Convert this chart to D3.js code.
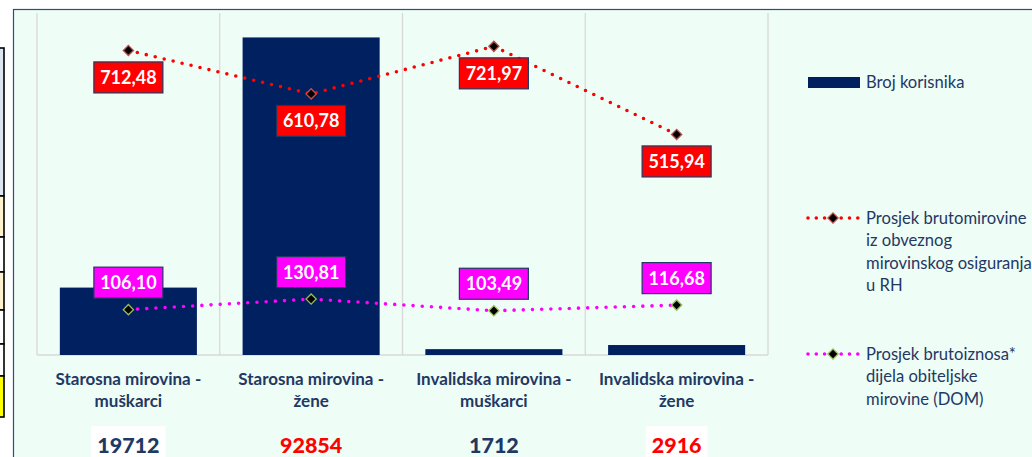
<!DOCTYPE html>
<html>
<head>
<meta charset="utf-8">
<script src="https://cdn.jsdelivr.net/npm/d3@7"></script>
<style>
  html, body { margin: 0; padding: 0; background: #ffffff; overflow: hidden; }
  svg { display: block; font-family: Lato, "Open Sans", sans-serif; }
</style>
</head>
<body>
<svg id="chart" width="1032" height="457"></svg>
<script>
// Pension categories and their figures
const categories = [
  ["Starosna mirovina -", "muškarci"],
  ["Starosna mirovina -", "žene"],
  ["Invalidska mirovina -", "muškarci"],
  ["Invalidska mirovina -", "žene"]
];
const brojKorisnika = [19712, 92854, 1712, 2916];
const prosjekMirovine = [712.48, 610.78, 721.97, 515.94];
const prosjekDOM = [106.10, 130.81, 103.49, 116.68];
const countLabels = ["19712", "92854", "1712", "2916"];
const countColors = ["#1F3864", "#FF0000", "#1F3864", "#FF0000"];
const countBoxed = [true, false, false, true];
const legendLabels = [
  ["Broj korisnika"],
  ["Prosjek brutomirovine", "iz obveznog", "mirovinskog osiguranja", "u RH"],
  ["Prosjek brutoiznosa*", "dijela obiteljske", "mirovine (DOM)"]
];
const yTicks1 = [0, 100000];
const yTicks2 = [0, 800];

const navy = "#1F3864";
const barColor = "#002060";
const fmt = v => v.toFixed(2).replace(".", ",");

const svg = d3.select("#chart");

// Neighbouring table edge on the left
const tableRows = [
  { y0: 48, y1: 196, fill: "#DCE6F1" },
  { y0: 196, y1: 237, fill: "#FFF2CC" },
  { y0: 237, y1: 272, fill: "#FFFFFF" },
  { y0: 272, y1: 310, fill: "#FFF2CC" },
  { y0: 310, y1: 344, fill: "#FFFFFF" },
  { y0: 344, y1: 376, fill: "#FFFFFF" },
  { y0: 376, y1: 417, fill: "#FFFF00" }
];
const tbl = svg.append("g");
tbl.selectAll("rect").data(tableRows).join("rect")
  .attr("x", -1).attr("y", d => d.y0).attr("width", 5).attr("height", d => d.y1 - d.y0)
  .attr("fill", d => d.fill).attr("stroke", "#000").attr("stroke-width", 1.6);

// Chart area
svg.append("rect").attr("x", 13.5).attr("y", 9.5).attr("width", 1040).attr("height", 460)
  .attr("fill", "#EEFDF6").attr("stroke", "#2F4A86").attr("stroke-width", 1.2);

const plot = { left: 37, right: 768, top: 13, bottom: 355 };

const x = d3.scaleBand().domain(d3.range(categories.length))
  .range([plot.left, plot.right]).paddingInner(0.25).paddingOuter(0.125);
const y1 = d3.scaleLinear().domain(d3.extent(yTicks1)).range([plot.bottom, plot.top]);
const y2 = d3.scaleLinear().domain(d3.extent(yTicks2)).range([plot.bottom, plot.top]);

// Vertical category separators
const step = x.step();
const seps = d3.range(categories.length + 1).map(i => plot.left + i * step);
svg.append("g").selectAll("line").data(seps).join("line")
  .attr("x1", d => d).attr("x2", d => d)
  .attr("y1", plot.top).attr("y2", plot.bottom)
  .attr("stroke", "#D9D9D9").attr("stroke-width", 1.3);
svg.append("line").attr("x1", plot.left).attr("x2", plot.right)
  .attr("y1", plot.bottom).attr("y2", plot.bottom)
  .attr("stroke", "#D9D9D9").attr("stroke-width", 1.3);

// Bars: number of beneficiaries
svg.append("g").selectAll("rect").data(brojKorisnika).join("rect")
  .attr("x", (d, i) => x(i)).attr("width", x.bandwidth())
  .attr("y", d => y1(d)).attr("height", d => plot.bottom - y1(d))
  .attr("fill", barColor);

const cx = i => x(i) + x.bandwidth() / 2;

// Dotted lines with diamond markers
function drawSeries(values, color, markerStroke) {
  const line = d3.line().x((d, i) => cx(i)).y(d => y2(d));
  svg.append("path").datum(values).attr("d", line)
    .attr("fill", "none").attr("stroke", color).attr("stroke-width", 3.6)
    .attr("stroke-linecap", "round").attr("stroke-dasharray", "0 9.2");
  svg.append("g").selectAll("path").data(values).join("path")
    .attr("d", d3.symbol().type(d3.symbolSquare).size(52))
    .attr("transform", (d, i) => `translate(${cx(i)},${y2(d)}) rotate(45)`)
    .attr("fill", "#000").attr("stroke", markerStroke).attr("stroke-width", 1.3);
}
drawSeries(prosjekMirovine, "#FF0000", "#C0504D");
drawSeries(prosjekDOM, "#FF00FF", "#9BBB59");

// Value labels in boxes
function drawLabels(values, fill, dy, border) {
  const g = svg.append("g").selectAll("g").data(values).join("g")
    .attr("transform", (d, i) => `translate(${cx(i)},${y2(d) + dy})`);
  g.append("rect").attr("x", -34.5).attr("y", -15.5).attr("width", 69).attr("height", 31)
    .attr("fill", fill).attr("stroke", border).attr("stroke-width", 1.2);
  g.append("text").text(d => fmt(d))
    .attr("text-anchor", "middle").attr("dy", "0.36em")
    .attr("fill", "#fff").attr("font-weight", 700).attr("font-size", 18);
}
drawLabels(prosjekMirovine, "#FF0000", 27, navy);
drawLabels(prosjekDOM, "#FF00FF", -27, navy);

// Category labels
const cat = svg.append("g").selectAll("text").data(categories).join("text")
  .attr("x", (d, i) => cx(i)).attr("text-anchor", "middle")
  .attr("fill", navy).attr("font-weight", 700).attr("font-size", 17);
cat.selectAll("tspan").data(d => d).join("tspan")
  .attr("x", function() { return d3.select(this.parentNode).attr("x"); })
  .attr("y", (d, j) => 385 + j * 22).text(d => d);

// Beneficiary counts under each category
const cnt = svg.append("g").selectAll("g").data(countLabels).join("g")
  .attr("transform", (d, i) => `translate(${cx(i)},453)`);
cnt.append("text").text(d => d)
  .attr("text-anchor", "middle").attr("fill", (d, i) => countColors[i])
  .attr("font-weight", 900).attr("font-size", 21.5);
cnt.each(function(d, i) {
  if (!countBoxed[i]) return;
  const t = d3.select(this).select("text");
  const b = t.node().getBBox();
  d3.select(this).insert("rect", "text")
    .attr("x", b.x - 6).attr("y", -27).attr("width", b.width + 12).attr("height", 40)
    .attr("fill", "#fff");
});

// Legend
const lg = svg.append("g");
lg.append("rect").attr("x", 808).attr("y", 77).attr("width", 52).attr("height", 11).attr("fill", barColor);
const legendY = [82, 218, 354];
function legendLine(yy, color, markerStroke) {
  lg.append("line").attr("x1", 808).attr("x2", 858).attr("y1", yy).attr("y2", yy)
    .attr("stroke", color).attr("stroke-width", 3.6)
    .attr("stroke-linecap", "round").attr("stroke-dasharray", "0 8.3");
  lg.append("path").attr("d", d3.symbol().type(d3.symbolSquare).size(52))
    .attr("transform", `translate(833,${yy}) rotate(45)`)
    .attr("fill", "#000").attr("stroke", markerStroke).attr("stroke-width", 1.3);
}
legendLine(legendY[1], "#FF0000", "#C0504D");
legendLine(legendY[2], "#FF00FF", "#9BBB59");
const lt = lg.selectAll("text").data(legendLabels).join("text")
  .attr("fill", navy).attr("font-size", 16.6);
lt.selectAll("tspan").data((d, i) => d.map((s, j) => ({ s, y: legendY[i] + j * 22.3 }))).join("tspan")
  .attr("x", 866).attr("y", d => d.y).attr("dy", "0.36em").text(d => d.s);
</script>
</body>
</html>
